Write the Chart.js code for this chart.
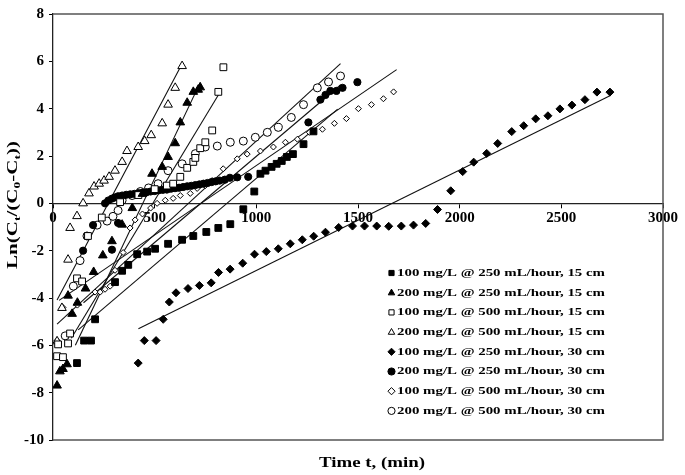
<!DOCTYPE html>
<html>
<head>
<meta charset="utf-8">
<script src="https://cdn.jsdelivr.net/npm/chart.js@4.4.0/dist/chart.umd.min.js"></script>
<style>
  html, body { margin: 0; padding: 0; background: #fff; }
  #wrap { width: 685px; height: 475px; }
</style>
</head>
<body>
<div id="wrap"><canvas id="chart" width="685" height="475"></canvas></div>
<script>
// Ln(Ct/(C0-Ct)) vs time, 8 runs + linear fits

const seriesNames = [
  '100 mg/L @ 250 mL/hour, 15 cm',
  '200 mg/L @ 250 mL/hour, 15 cm',
  '100 mg/L @ 500 mL/hour, 15 cm',
  '200 mg/L @ 500 mL/hour, 15 cm',
  '100 mg/L @ 250 mL/hour, 30 cm',
  '200 mg/L @ 250 mL/hour, 30 cm',
  '100 mg/L @ 500 mL/hour, 30 cm',
  '200 mg/L @ 500 mL/hour, 30 cm'
];

const xTicks = [0, 500, 1000, 1500, 2000, 2500, 3000];
const yTicks = [-10, -8, -6, -4, -2, 0, 2, 4, 6, 8];

// 100 mg/L @ 250, 15 cm (filled squares)
const t1 = [118, 153, 187, 207, 305, 340, 370, 414, 463, 502, 566, 635, 690, 754, 813, 872, 936, 990, 1020, 1045, 1075, 1100, 1125, 1150, 1180, 1232, 1281];
const y1 = [-6.75, -5.8, -5.8, -4.9, -3.33, -2.85, -2.6, -2.15, -2.04, -1.92, -1.71, -1.54, -1.38, -1.21, -1.04, -0.88, -0.25, 0.5, 1.25, 1.38, 1.54, 1.67, 1.79, 1.96, 2.08, 2.5, 3.04];
// 200 mg/L @ 250, 15 cm (filled triangles)
const t2 = [20, 34, 49, 69, 74, 94, 120, 160, 200, 245, 290, 340, 390, 440, 487, 537, 566, 601, 626, 660, 690, 714, 724];
const y2 = [-7.7, -7.1, -7.0, -6.8, -3.9, -4.67, -4.2, -3.6, -2.9, -2.2, -1.6, -0.9, -0.2, 0.4, 1.25, 1.54, 1.96, 2.54, 3.42, 4.25, 4.71, 4.8, 4.9];
// 100 mg/L @ 500, 15 cm (open squares)
const t3 = [20, 25, 49, 74, 84, 118, 143, 172, 240, 330, 420, 500, 560, 591, 626, 660, 690, 700, 724, 749, 783, 813, 838];
const y3 = [-6.46, -5.96, -6.5, -5.92, -5.5, -3.17, -3.3, -1.38, -0.6, 0.05, 0.35, 0.6, 0.75, 0.83, 1.12, 1.5, 1.75, 1.92, 2.33, 2.58, 3.08, 4.71, 5.75];
// 200 mg/L @ 500, 15 cm (open triangles)
const t4 = [20, 44, 74, 84, 118, 148, 177, 202, 227, 251, 276, 305, 340, 364, 419, 451, 483, 537, 566, 601, 635];
const y4 = [-5.83, -4.42, -2.38, -1.04, -0.54, 0, 0.42, 0.71, 0.83, 0.96, 1.12, 1.38, 1.75, 2.21, 2.38, 2.63, 2.88, 3.38, 4.17, 4.88, 5.8];
// 100 mg/L @ 250, 30 cm (filled diamonds)
const t5 = [419, 449, 507, 542, 572, 605, 664, 720, 778, 814, 871, 933, 991, 1049, 1108, 1167, 1226, 1282, 1340, 1405, 1473, 1532, 1592, 1651, 1713, 1773, 1833, 1891, 1956, 2015, 2069, 2133, 2187, 2256, 2315, 2374, 2434, 2493, 2552, 2616, 2675, 2739];
const y5 = [-6.75, -5.8, -5.8, -4.9, -4.17, -3.78, -3.6, -3.47, -3.36, -2.92, -2.78, -2.53, -2.15, -2.04, -1.92, -1.71, -1.54, -1.39, -1.22, -1.02, -0.96, -0.96, -0.96, -0.97, -0.96, -0.92, -0.85, -0.26, 0.53, 1.34, 1.74, 2.11, 2.53, 3.03, 3.28, 3.57, 3.7, 3.99, 4.15, 4.38, 4.7, 4.7];
// 200 mg/L @ 250, 30 cm (filled circles)
const t6 = [148, 197, 256, 272, 290, 290, 305, 320, 320, 340, 360, 380, 400, 420, 440, 460, 480, 500, 520, 540, 560, 580, 600, 620, 640, 660, 680, 700, 720, 740, 760, 780, 800, 820, 845, 870, 906, 960, 1256, 1315, 1340, 1364, 1394, 1424, 1497];
const y6 = [-2.0, -0.92, 0.0, 0.12, 0.2, -1.96, 0.25, 0.3, -0.83, 0.33, 0.36, 0.38, 0.4, 0.43, 0.45, 0.47, 0.5, 0.52, 0.55, 0.57, 0.58, 0.62, 0.64, 0.66, 0.69, 0.72, 0.74, 0.77, 0.8, 0.83, 0.86, 0.9, 0.93, 0.96, 1.0, 1.08, 1.1, 1.12, 3.42, 4.38, 4.58, 4.75, 4.75, 4.88, 5.12];
// 100 mg/L @ 500, 30 cm (small open diamonds)
const t7 = [20, 49, 120, 207, 232, 256, 281, 305, 345, 379, 404, 440, 480, 512, 552, 591, 626, 675, 709, 749, 783, 837, 906, 955, 1020, 1084, 1143, 1202, 1261, 1325, 1384, 1443, 1502, 1566, 1625, 1675];
const y7 = [-5.8, -4.4, -4.3, -3.75, -3.75, -3.63, -3.5, -2.83, -2.08, -1.04, -0.7, -0.45, -0.2, 0, 0.13, 0.21, 0.33, 0.42, 0.63, 0.75, 0.96, 1.46, 1.88, 2.08, 2.21, 2.38, 2.58, 2.71, 3.0, 3.13, 3.38, 3.58, 4.0, 4.17, 4.42, 4.71];
// 200 mg/L @ 500, 30 cm (open circles)
const t8 = [60, 100, 133, 167, 217, 266, 295, 320, 340, 389, 430, 470, 517, 566, 635, 700, 749, 808, 872, 936, 995, 1054, 1108, 1172, 1232, 1300, 1355, 1414];
const y8 = [-5.6, -3.5, -2.42, -1.38, -0.92, -0.75, -0.55, -0.3, 0.13, 0.33, 0.5, 0.65, 0.83, 1.38, 1.67, 2.1, 2.38, 2.42, 2.58, 2.63, 2.79, 3.0, 3.21, 3.63, 4.17, 4.88, 5.13, 5.38];

// linear fits: [start, end]
const fitT1 = [124, 1400],  fitY1 = [-5.35, 3.98];
const fitT2 = [110, 724],   fitY2 = [-6.0, 5.1];
const fitT3 = [90, 825],    fitY3 = [-5.7, 4.75];
const fitT4 = [20, 626],    fitY4 = [-4.08, 5.75];
const fitT5 = [420, 2739],  fitY5 = [-5.3, 4.55];
const fitT6 = [150, 1414],  fitY6 = [-4.2, 5.0];
const fitT7 = [30, 1690],   fitY7 = [-4.1, 5.65];
const fitT8 = [20, 1414],   fitY8 = [-5.1, 5.9];

const pts = (ts, ys) => ts.map((t, i) => ({ x: t, y: ys[i] }));

const allT = [t1, t2, t3, t4, t5, t6, t7, t8];
const allY = [y1, y2, y3, y4, y5, y6, y7, y8];
const fitsT = [fitT1, fitT2, fitT3, fitT4, fitT5, fitT6, fitT7, fitT8];
const fitsY = [fitY1, fitY2, fitY3, fitY4, fitY5, fitY6, fitY7, fitY8];

// marker look per series
const marks = [
  { style: 'rect',     r: 4.8, fill: '#000' },
  { style: 'triangle', r: 5,   fill: '#000' },
  { style: 'rect',     r: 4.8, fill: '#fff' },
  { style: 'triangle', r: 5,   fill: '#fff' },
  { style: 'rectRot',  r: 4,   fill: '#000' },
  { style: 'circle',   r: 3.6, fill: '#000' },
  { style: 'rectRot',  r: 3,   fill: '#fff' },
  { style: 'circle',   r: 4,   fill: '#fff' }
];

const datasets = [];
fitsT.forEach((ft, i) => {
  datasets.push({
    label: 'fit' + (i + 1),
    data: pts(ft, fitsY[i]),
    showLine: true,
    borderColor: '#111',
    borderWidth: 1.1,
    pointRadius: 0,
    order: 2
  });
});
allT.forEach((ts, i) => {
  datasets.push({
    label: seriesNames[i],
    data: pts(ts, allY[i]),
    pointStyle: marks[i].style,
    pointRadius: marks[i].r,
    pointBackgroundColor: marks[i].fill,
    pointBorderColor: '#000',
    pointBorderWidth: 1,
    order: 1
  });
});

const serif = "'Liberation Serif', 'Times New Roman', serif";

function drawMarker(ctx, m, x, y, r) {
  ctx.save();
  ctx.beginPath();
  if (m.style === 'rect') {
    const s = r * 0.72;
    ctx.rect(x - s, y - s, 2 * s, 2 * s);
  } else if (m.style === 'triangle') {
    ctx.moveTo(x, y - r);
    ctx.lineTo(x + r * 0.9, y + r * 0.6);
    ctx.lineTo(x - r * 0.9, y + r * 0.6);
    ctx.closePath();
  } else if (m.style === 'rectRot') {
    ctx.moveTo(x, y - r); ctx.lineTo(x + r, y); ctx.lineTo(x, y + r); ctx.lineTo(x - r, y);
    ctx.closePath();
  } else {
    ctx.arc(x, y, r, 0, Math.PI * 2);
  }
  ctx.fillStyle = m.fill;
  ctx.fill();
  ctx.strokeStyle = '#000';
  ctx.lineWidth = 1;
  ctx.stroke();
  ctx.restore();
}

// draws text pieces (with subscripts) centred on 0,0, stretched to a target length
function drawRich(ctx, pieces, size, target) {
  ctx.fillStyle = '#000';
  ctx.textAlign = 'left';
  ctx.textBaseline = 'middle';
  let w = 0;
  pieces.forEach(p => {
    ctx.font = 'bold ' + (p[1] ? size * 0.65 : size) + 'px ' + serif;
    w += ctx.measureText(p[0]).width;
  });
  ctx.scale(target / w, 1);
  let x = -w / 2;
  pieces.forEach(p => {
    ctx.font = 'bold ' + (p[1] ? size * 0.65 : size) + 'px ' + serif;
    ctx.fillText(p[0], x, p[1] ? size * 0.3 : 0);
    x += ctx.measureText(p[0]).width;
  });
}

const decor = {
  id: 'decor',
  beforeDatasetsDraw(chart) {
    const { ctx, chartArea: a } = chart;
    ctx.save();
    ctx.strokeStyle = '#555';
    ctx.lineWidth = 1.5;
    ctx.beginPath();
    ctx.moveTo(a.left, a.top); ctx.lineTo(a.right, a.top);
    ctx.lineTo(a.right, a.bottom); ctx.lineTo(a.left, a.bottom);
    ctx.stroke();
    ctx.restore();
  },
  afterDraw(chart) {
    const { ctx } = chart;
    ctx.save();

    // legend inside the plot
    ctx.font = 'bold 11px ' + serif;
    ctx.textBaseline = 'middle';
    ctx.textAlign = 'left';
    const k = 208 / ctx.measureText(seriesNames[0]).width;
    seriesNames.forEach((name, i) => {
      const y = 273 + i * 19.7;
      drawMarker(ctx, marks[i], 391.5, y, 3.6);
      ctx.save();
      ctx.translate(397, y);
      ctx.scale(k, 1);
      ctx.fillStyle = '#000';
      ctx.fillText(name, 0, 0);
      ctx.restore();
    });

    // x title
    ctx.save();
    ctx.translate(372, 463);
    drawRich(ctx, [['Time t, (min)', false]], 14, 106);
    ctx.restore();

    // y title
    ctx.save();
    ctx.translate(13, 205);
    ctx.rotate(-Math.PI / 2);
    drawRich(ctx, [['Ln(C', false], ['t', true], ['/(C', false], ['0', true], ['-C', false], ['t', true], ['))', false]], 14, 128);
    ctx.restore();

    ctx.restore();
  }
};

new Chart(document.getElementById('chart'), {
  type: 'scatter',
  data: { datasets },
  plugins: [decor],
  options: {
    responsive: false,
    animation: false,
    devicePixelRatio: 1,
    layout: { padding: { top: 8, right: 22, bottom: 35, left: 0 } },
    plugins: { legend: { display: false }, tooltip: { enabled: false } },
    scales: {
      x: {
        type: 'linear',
        position: { y: 0 },
        min: 0, max: 3000,
        afterBuildTicks: s => { s.ticks = xTicks.map(v => ({ value: v })); },
        ticks: { autoSkip: false, maxRotation: 0, padding: 2, color: '#000', callback: v => String(v), font: { family: serif, weight: 'bold', size: 15 } },
        grid: { drawOnChartArea: false, tickLength: 4, color: '#000' },
        border: { color: '#222', width: 1.3 }
      },
      y: {
        position: 'left',
        min: -10, max: 8,
        afterBuildTicks: s => { s.ticks = yTicks.map(v => ({ value: v })); },
        afterFit: s => { s.width = 53; },
        ticks: { padding: 5, color: '#000', callback: v => String(v), font: { family: serif, weight: 'bold', size: 15 } },
        grid: { drawOnChartArea: false, tickLength: 4, color: '#000' },
        border: { color: '#222', width: 1.3 }
      }
    }
  }
});
</script>
</body>
</html>
